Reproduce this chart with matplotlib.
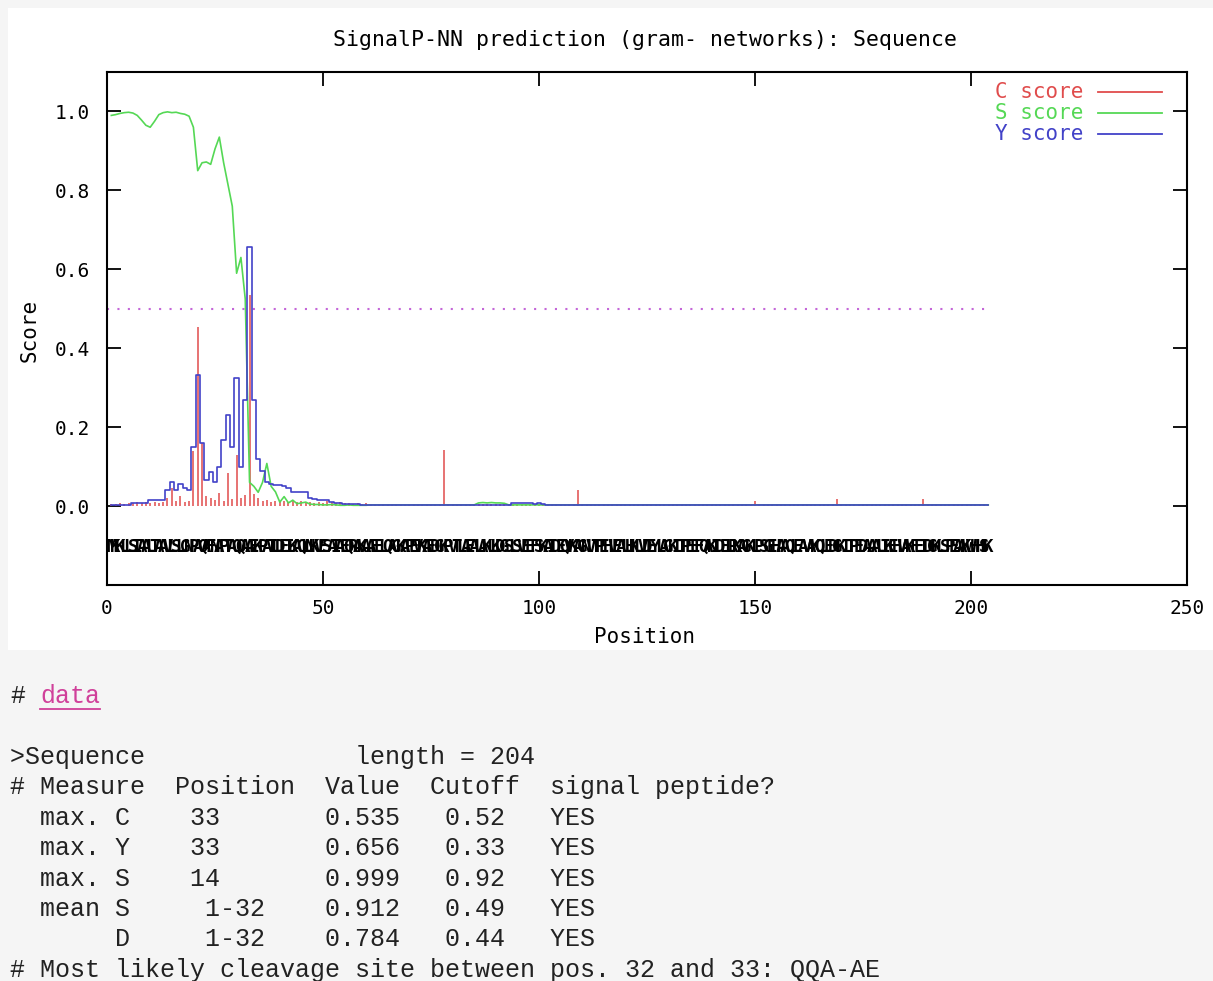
import matplotlib
matplotlib.use('Agg')
import matplotlib.pyplot as plt
from matplotlib.lines import Line2D
from matplotlib.patches import Rectangle
import numpy as np

# --- data ---
seq_length = 204
sequence = ('MKKLLSIAALTAAVLSLGNPAQAFNAPTA' + 'QQAAE'
            + 'KPATLDEIKAQLNKVESAIAEQRAKAAEELQAGKAPEVKAEDGKPVTLAEALAKLKDGSL'
            + 'SVEEFSKAIDEQVKAGNVTPEHVEALHKLVDEYLAGKITPEEFQAKIDELRKAGKLPSGE'
            + 'HAAQLEAVAKQLEDGKITPEDAAALIKEHVAKFETDGKLSPEAAKWHHSK')

# positions 1..60
c_head = [0.005, 0.006, 0.008, 0.006, 0.008, 0.008, 0.010, 0.008, 0.010, 0.008,
          0.010, 0.008, 0.010, 0.020, 0.045, 0.012, 0.025, 0.010, 0.012, 0.140,
          0.455, 0.160, 0.025, 0.020, 0.015, 0.033, 0.012, 0.083, 0.018, 0.130,
          0.020, 0.028, 0.535, 0.030, 0.020, 0.012, 0.015, 0.010, 0.012, 0.010,
          0.012, 0.010, 0.015, 0.010, 0.012, 0.008, 0.010, 0.008, 0.010, 0.008,
          0.012, 0.010, 0.008, 0.010, 0.008, 0.008, 0.006, 0.008, 0.006, 0.008]
s_head = [0.990, 0.992, 0.995, 0.997, 0.998, 0.996, 0.990, 0.978, 0.965, 0.960,
          0.975, 0.992, 0.997, 0.999, 0.997, 0.998, 0.995, 0.993, 0.988, 0.960,
          0.850, 0.870, 0.872, 0.866, 0.905, 0.935, 0.870, 0.815, 0.760, 0.590,
          0.630, 0.525, 0.060, 0.050, 0.035, 0.060, 0.108, 0.050, 0.036, 0.010,
          0.024, 0.008, 0.015, 0.006, 0.008, 0.010, 0.005, 0.004, 0.004, 0.003,
          0.003, 0.004, 0.003, 0.002, 0.002, 0.003, 0.002, 0.002, 0.002, 0.002]
y_head = [0.003, 0.003, 0.003, 0.003, 0.003, 0.008, 0.008, 0.008, 0.008, 0.015,
          0.015, 0.015, 0.015, 0.040, 0.062, 0.040, 0.057, 0.045, 0.040, 0.150,
          0.332, 0.160, 0.066, 0.087, 0.062, 0.100, 0.168, 0.232, 0.150, 0.325,
          0.100, 0.270, 0.656, 0.270, 0.120, 0.090, 0.062, 0.057, 0.053, 0.053,
          0.050, 0.045, 0.036, 0.036, 0.036, 0.036, 0.020, 0.018, 0.015, 0.015,
          0.015, 0.010, 0.008, 0.008, 0.006, 0.005, 0.005, 0.004, 0.003, 0.003]

# positions 61..204: flat level plus the few visible bumps
c_tail_level = 0.006
s_tail_level = 0.003
y_tail_level = 0.003
c_tail_peaks = {78: 0.142, 109: 0.040, 150: 0.012, 169: 0.018, 189: 0.018}
s_tail_peaks = {86: 0.008, 87: 0.009, 88: 0.008, 89: 0.009, 90: 0.008, 91: 0.008, 92: 0.007}
y_tail_peaks = {94: 0.007, 95: 0.008, 96: 0.007, 97: 0.007, 98: 0.008, 99: 0.006, 100: 0.007, 101: 0.006}

cutoff = 0.5

table_header = ['Measure', 'Position', 'Value', 'Cutoff', 'signal peptide?']
table_rows = [
    ('max. C', '33', '0.535', '0.52', 'YES'),
    ('max. Y', '33', '0.656', '0.33', 'YES'),
    ('max. S', '14', '0.999', '0.92', 'YES'),
    ('mean S', ' 1-32', '0.912', '0.49', 'YES'),
    ('     D', ' 1-32', '0.784', '0.44', 'YES'),
]
cleavage_line = '# Most likely cleavage site between pos. 32 and 33: QQA-AE'


def full_series(head, level, peaks):
    values = list(head) + [level] * (seq_length - len(head))
    for pos, v in peaks.items():
        values[pos - 1] = v
    return np.array(values)


positions = np.arange(1, seq_length + 1)
c_score = full_series(c_head, c_tail_level, c_tail_peaks)
s_score = full_series(s_head, s_tail_level, s_tail_peaks)
y_score = full_series(y_head, y_tail_level, y_tail_peaks)

RED = '#e04c4c'
GREEN = '#55d855'
BLUE = '#4242c8'
MONO = 'DejaVu Sans Mono'

W, H = 1213, 981
fig = plt.figure(figsize=(W / 100, H / 100), dpi=100, facecolor='#f5f5f5')


def fx(px):
    return px / W


def fy(py):
    return 1 - py / H


fig.add_artist(Rectangle((fx(8), fy(650)), fx(1205), 642 / H, transform=fig.transFigure,
                         facecolor='white', edgecolor='none', zorder=-10))

ax = fig.add_axes([fx(107), fy(585), fx(1080), (585 - 72) / H])
ax.set_xlim(0, 250)
ax.set_ylim(-0.2, 1.1)

ax.vlines(positions, 0, c_score, color=RED, lw=1.1, zorder=2)
ax.plot(positions, s_score, color=GREEN, lw=1.2, zorder=3)
ax.plot(positions, y_score, color=BLUE, lw=1.2, drawstyle='steps-mid', zorder=4)
ax.hlines(cutoff, 0, seq_length, color='#c466d8', lw=1.5, linestyles=(0, (1, 4)), zorder=1)

for i, letter in enumerate(sequence[:seq_length]):
    ax.text(i + 1, -0.103, letter, ha='center', va='center', fontsize=12.5,
            fontweight='bold', family=MONO, color='black')

ax.set_xticks([0, 50, 100, 150, 200, 250])
ax.set_yticks([0.0, 0.2, 0.4, 0.6, 0.8, 1.0])
ax.set_yticklabels([f'{v:.1f}' for v in [0.0, 0.2, 0.4, 0.6, 0.8, 1.0]])
ax.tick_params(direction='in', length=10, width=1.3, top=True, right=True, labelsize=14)
ax.tick_params(axis='y', pad=12)
ax.tick_params(axis='x', pad=10)
for lbl in ax.get_xticklabels() + ax.get_yticklabels():
    lbl.set_family(MONO)
for sp in ax.spines.values():
    sp.set_linewidth(1.5)

fig.text(fx(645), fy(40), 'SignalP-NN prediction (gram- networks): Sequence', ha='center',
         va='center', fontsize=15.5, family=MONO)
fig.text(fx(645), fy(637), 'Position', ha='center', va='center', fontsize=15, family=MONO)
fig.text(fx(30), fy(330), 'Score', ha='center', va='center', fontsize=15, family=MONO, rotation=90)

# legend
for name, color, py in [('C score', RED, 92), ('S score', GREEN, 113), ('Y score', BLUE, 134)]:
    fig.text(fx(1083), fy(py), name, ha='right', va='center', fontsize=15, family=MONO, color=color)
    fig.add_artist(Line2D([fx(1098), fx(1162)], [fy(py), fy(py)], transform=fig.transFigure,
                          color=color, lw=1.3))

# text output below the chart
TXT = 'Liberation Mono'
fig.text(fx(10), fy(696), '#', ha='left', va='center', fontsize=18, family=TXT, color='#222222')
fig.text(fx(40), fy(696), 'data', ha='left', va='center', fontsize=18, family=TXT, color='#d0409a')
fig.add_artist(Line2D([fx(40), fx(100)], [fy(709), fy(709)], transform=fig.transFigure,
                      color='#d0409a', lw=1.3))

lines = ['>Sequence' + ' ' * 14 + f'length = {seq_length}']
lines.append(f'# {table_header[0]}  {table_header[1]}  {table_header[2]}  {table_header[3]}  {table_header[4]}')
for m, p, v, c, ans in table_rows:
    lines.append(f'  {m}    {p:<9}{v}   {c}   {ans}')
lines.append(cleavage_line)

for k, line in enumerate(lines):
    fig.text(fx(10), fy(757 + 30.4 * k), line, ha='left', va='center', fontsize=18,
             family=TXT, color='#222222')

fig.savefig('out.png', dpi=100, facecolor=fig.get_facecolor())
